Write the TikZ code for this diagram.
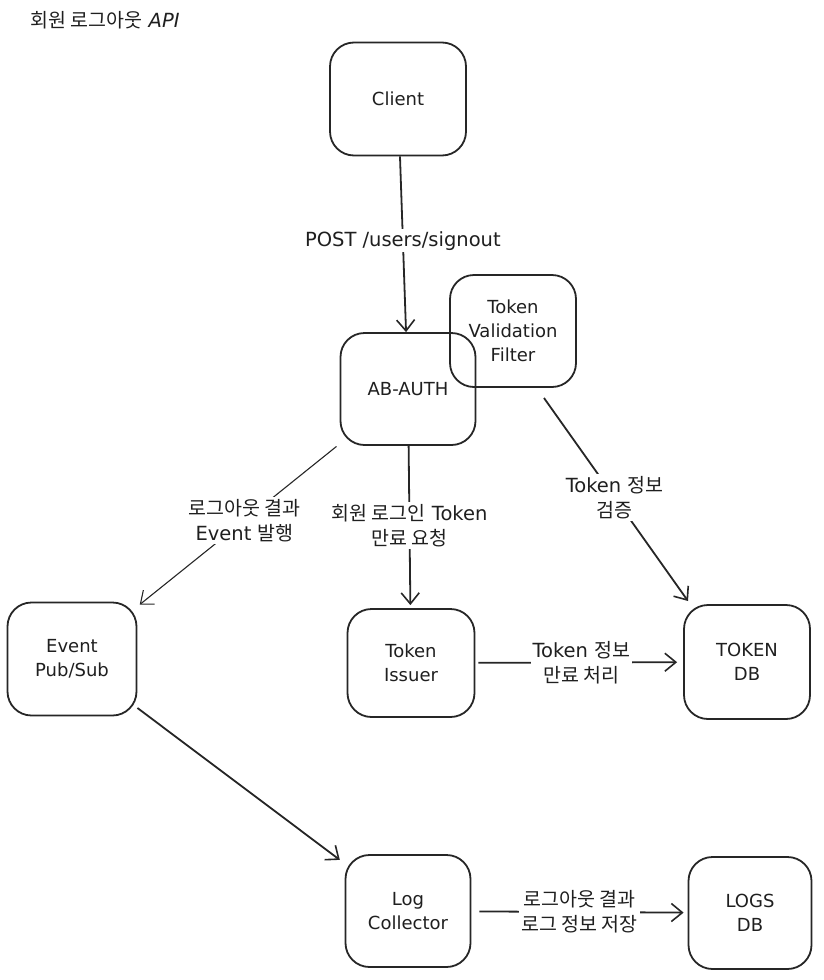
\documentclass[tikz,border=0pt]{standalone}
\usepackage{fontspec}
\setmainfont{DejaVu Sans}
\newfontfamily\kofont{Noto Sans CJK KR}
\newcommand\ko[1]{{\kofont #1}}
\usetikzlibrary{arrows.meta}
\begin{document}
\begin{tikzpicture}[x=1pt,y=-1pt,
  box/.style={draw=black!85,line width=1.8pt,rounded corners=24pt,align=center,font=\fontsize{18}{24}\selectfont,text=black!88},
  conn/.style={draw=black!85,line width=1.8pt,-{Straight Barb[length=11pt,width=18pt,line width=1.6pt]}},
  thinconn/.style={draw=black!85,line width=1.1pt,-{Straight Barb[length=11pt,width=18pt,line width=1.1pt]}},
  lbl/.style={fill=white,align=center,inner sep=2pt,text=black!88,font=\fontsize{19.5}{25}\selectfont}]
\useasboundingbox (0,0) rectangle (824,980);
\node[anchor=west,font=\fontsize{19.5}{22}\selectfont,text=black!88] (title) at (27,20) {\ko{회원 로그아웃} \textit{API}};
\node[box,minimum width=136pt,minimum height=113pt] (client) at (398,99) {Client};
\node[box,minimum width=135pt,minimum height=112pt] (auth) at (408,389) {AB-AUTH};
\node[box,minimum width=126pt,minimum height=112pt] (filter) at (513,331) {Token\\Validation\\Filter};
\node[box,minimum width=129pt,minimum height=113pt] (event) at (72,659) {Event\\Pub/Sub};
\node[box,minimum width=127pt,minimum height=108pt] (issuer) at (411,663) {Token\\Issuer};
\node[box,minimum width=126pt,minimum height=114pt] (tokendb) at (747,662) {TOKEN\\DB};
\node[box,minimum width=125pt,minimum height=112pt] (logc) at (408,911) {Log\\Collector};
\node[box,minimum width=123pt,minimum height=112pt] (logsdb) at (750,913) {LOGS\\DB};
% free-end coordinates
\coordinate (f1) at (544,398);
\coordinate (t1) at (688,601);
% connectors
\draw[conn] (client) -- (auth) node[lbl,pos=0.48] {POST /users/signout};
\draw[thinconn,shorten <=4pt,shorten >=3pt] (auth) -- (event) node[lbl,pos=0.47] {\ko{로그아웃 결과}\\Event \ko{발행}};
\draw[conn,shorten >=3pt] (auth) -- (issuer) node[lbl,pos=0.49] {\ko{회원 로그인} Token\\\ko{만료 요청}};
\draw[conn] (f1) -- (t1) node[lbl,pos=0.49] {Token \ko{정보}\\\ko{검증}};
\draw[conn,shorten <=3pt,shorten >=6pt] (issuer) -- (tokendb) node[lbl,pos=0.51] {Token \ko{정보}\\\ko{만료 처리}};
\draw[conn,shorten >=6pt] (event) -- (logc);
\draw[conn,shorten <=8pt,shorten >=4pt] (logc) -- (logsdb) node[lbl,pos=0.5] {\ko{로그아웃 결과}\\\ko{로그 정보 저장}};
\end{tikzpicture}
\end{document}
